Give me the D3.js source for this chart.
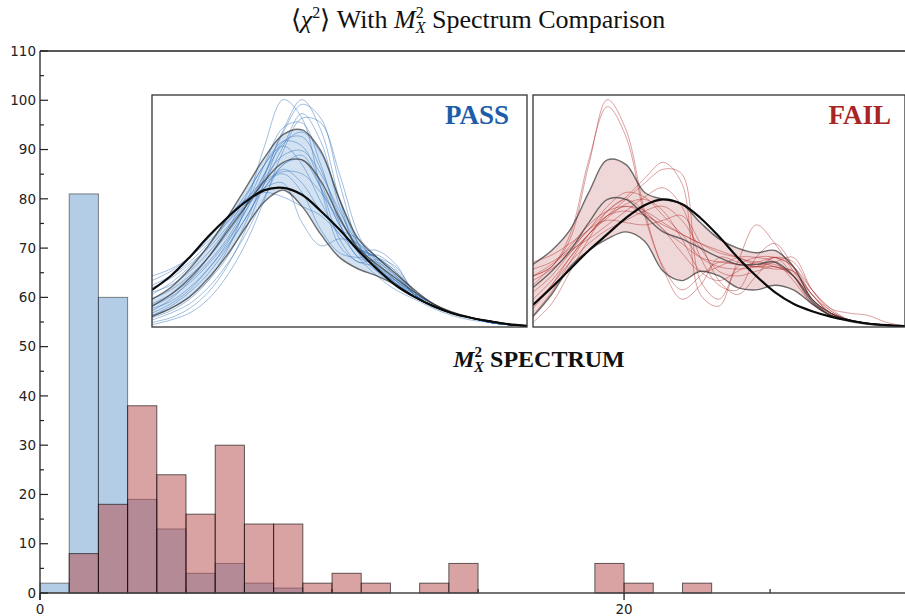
<!DOCTYPE html>
<html>
<head>
<meta charset="utf-8">
<script src="https://cdn.jsdelivr.net/npm/d3@7"></script>
<style>
  body { margin: 0; background: #fff; }
  svg { display: block; }
</style>
</head>
<body>
<div id="chart"></div>
<script>
// histogram bins are unit width, starting at 0
var passCounts = [2, 81, 60, 19, 13, 4, 6, 2, 1];
var failCounts = [0, 8, 18, 38, 24, 16, 30, 14, 14, 2, 4, 2, 0, 2, 6, 0, 0, 0, 0, 6, 2, 0, 2];

var yTicks = d3.range(0, 111, 10);
var xLabels = [0, 20];
var xMinor = [5, 10, 15, 25];

// inset curves, sampled on a common grid 0 .. 1 (step 0.05), normalized height
var insetGrid = d3.range(0, 21).map(function(i) { return i / 20; });

var passMean = [0.16,0.22,0.30,0.39,0.47,0.54,0.59,0.60,0.57,0.50,0.42,0.33,0.25,0.18,0.13,0.09,0.06,0.04,0.025,0.012,0.005];
var passUpper = [0.12,0.17,0.25,0.35,0.47,0.60,0.73,0.83,0.85,0.76,0.55,0.38,0.30,0.23,0.16,0.10,0.065,0.04,0.025,0.012,0.005];
var passMid = [0.09,0.14,0.21,0.30,0.41,0.52,0.63,0.71,0.72,0.63,0.47,0.34,0.27,0.21,0.15,0.10,0.06,0.04,0.025,0.012,0.005];
var passLower = [0.045,0.08,0.13,0.21,0.31,0.43,0.54,0.59,0.52,0.40,0.30,0.25,0.22,0.18,0.13,0.09,0.06,0.04,0.025,0.012,0.005];
var passRuns = [
  [0.05,0.08,0.13,0.20,0.30,0.45,0.65,0.85,0.98,0.85,0.55,0.32,0.24,0.20,0.14,0.09,0.06,0.04,0.02,0.01,0.005],
  [0.04,0.07,0.12,0.20,0.33,0.52,0.78,0.98,0.90,0.60,0.35,0.28,0.26,0.20,0.14,0.10,0.06,0.04,0.02,0.01,0.005],
  [0.10,0.14,0.20,0.28,0.38,0.52,0.70,0.86,0.88,0.70,0.45,0.30,0.28,0.22,0.14,0.09,0.06,0.04,0.02,0.01,0.005],
  [0.20,0.24,0.30,0.37,0.45,0.53,0.60,0.62,0.45,0.35,0.38,0.36,0.28,0.20,0.13,0.09,0.06,0.04,0.02,0.01,0.005],
  [0.14,0.19,0.26,0.35,0.45,0.55,0.63,0.67,0.66,0.58,0.46,0.35,0.26,0.19,0.13,0.09,0.06,0.04,0.02,0.01,0.005],
  [0.02,0.04,0.08,0.15,0.26,0.42,0.62,0.80,0.82,0.68,0.48,0.34,0.30,0.23,0.14,0.09,0.06,0.04,0.02,0.01,0.005],
  [0.06,0.10,0.16,0.25,0.36,0.50,0.64,0.74,0.76,0.66,0.50,0.36,0.29,0.21,0.14,0.09,0.06,0.04,0.02,0.01,0.005],
  [0.22,0.25,0.30,0.38,0.47,0.55,0.58,0.56,0.52,0.48,0.40,0.30,0.22,0.16,0.12,0.08,0.05,0.03,0.02,0.01,0.005],
  [0.08,0.11,0.17,0.25,0.35,0.47,0.62,0.78,0.92,0.80,0.52,0.34,0.30,0.26,0.15,0.10,0.06,0.04,0.02,0.01,0.005],
  [0.03,0.06,0.10,0.17,0.27,0.40,0.56,0.70,0.72,0.60,0.44,0.33,0.33,0.27,0.15,0.10,0.06,0.04,0.02,0.01,0.005],
  [0.12,0.16,0.22,0.30,0.40,0.52,0.66,0.79,0.84,0.75,0.55,0.36,0.26,0.20,0.13,0.09,0.06,0.04,0.02,0.01,0.005],
  [0.05,0.09,0.15,0.23,0.34,0.47,0.60,0.68,0.62,0.50,0.42,0.38,0.30,0.22,0.14,0.09,0.06,0.04,0.02,0.01,0.005],
  [0.18,0.22,0.28,0.36,0.46,0.57,0.70,0.80,0.78,0.62,0.44,0.32,0.25,0.19,0.13,0.09,0.06,0.04,0.02,0.01,0.005],
  [0.09,0.13,0.19,0.27,0.37,0.50,0.66,0.84,0.96,0.90,0.62,0.36,0.24,0.18,0.13,0.09,0.06,0.04,0.02,0.01,0.005],
  [0.15,0.18,0.24,0.32,0.42,0.53,0.62,0.66,0.58,0.42,0.32,0.30,0.31,0.25,0.15,0.10,0.06,0.04,0.02,0.01,0.005],
  [0.07,0.12,0.20,0.30,0.42,0.56,0.70,0.78,0.70,0.54,0.40,0.34,0.30,0.24,0.14,0.09,0.06,0.04,0.02,0.01,0.005],
  [0.01,0.03,0.06,0.12,0.22,0.36,0.55,0.76,0.90,0.88,0.66,0.40,0.26,0.19,0.13,0.09,0.06,0.04,0.02,0.01,0.005],
  [0.17,0.21,0.27,0.34,0.43,0.52,0.60,0.70,0.74,0.60,0.38,0.28,0.29,0.24,0.14,0.09,0.06,0.04,0.02,0.01,0.005]
];

var failMean = [0.095,0.17,0.25,0.33,0.40,0.47,0.525,0.55,0.53,0.47,0.39,0.30,0.22,0.15,0.10,0.068,0.045,0.028,0.015,0.008,0.004];
var failUpper = [0.27,0.33,0.42,0.58,0.72,0.70,0.58,0.55,0.53,0.45,0.38,0.34,0.32,0.33,0.26,0.12,0.06,0.03,0.015,0.008,0.004];
var failMid = [0.17,0.24,0.33,0.45,0.55,0.55,0.48,0.41,0.38,0.34,0.30,0.27,0.27,0.28,0.22,0.11,0.05,0.03,0.015,0.008,0.004];
var failLower = [0.045,0.14,0.26,0.33,0.38,0.41,0.37,0.24,0.20,0.24,0.22,0.17,0.16,0.18,0.16,0.10,0.05,0.025,0.012,0.006,0.003];
var failRuns = [
  [0.22,0.26,0.38,0.70,0.98,0.85,0.50,0.25,0.12,0.18,0.30,0.28,0.26,0.25,0.24,0.14,0.06,0.03,0.015,0.008,0.004],
  [0.28,0.31,0.36,0.42,0.50,0.56,0.64,0.71,0.62,0.14,0.09,0.26,0.30,0.30,0.26,0.16,0.08,0.03,0.015,0.008,0.004],
  [0.20,0.25,0.32,0.40,0.48,0.55,0.62,0.68,0.66,0.20,0.12,0.28,0.44,0.36,0.24,0.14,0.07,0.03,0.015,0.008,0.004],
  [0.05,0.15,0.28,0.40,0.48,0.50,0.48,0.44,0.40,0.36,0.33,0.30,0.27,0.27,0.22,0.12,0.06,0.03,0.015,0.008,0.004],
  [0.12,0.20,0.30,0.40,0.48,0.52,0.50,0.45,0.40,0.36,0.32,0.30,0.28,0.30,0.26,0.14,0.06,0.03,0.015,0.008,0.004],
  [0.18,0.26,0.35,0.44,0.50,0.52,0.49,0.42,0.32,0.24,0.26,0.30,0.30,0.28,0.20,0.10,0.05,0.03,0.015,0.008,0.004],
  [0.08,0.18,0.30,0.40,0.47,0.53,0.55,0.50,0.38,0.24,0.20,0.24,0.28,0.26,0.24,0.14,0.06,0.03,0.015,0.008,0.004],
  [0.25,0.28,0.34,0.42,0.52,0.58,0.56,0.48,0.40,0.30,0.26,0.25,0.26,0.30,0.28,0.16,0.08,0.06,0.05,0.02,0.004],
  [0.15,0.22,0.32,0.42,0.46,0.45,0.44,0.46,0.48,0.36,0.20,0.14,0.22,0.30,0.22,0.10,0.05,0.03,0.015,0.008,0.004],
  [0.22,0.27,0.33,0.38,0.44,0.50,0.56,0.60,0.52,0.30,0.18,0.16,0.30,0.36,0.26,0.12,0.06,0.03,0.015,0.008,0.004],
  [0.02,0.10,0.24,0.38,0.50,0.55,0.50,0.42,0.36,0.30,0.28,0.27,0.26,0.28,0.30,0.16,0.07,0.03,0.015,0.008,0.004],
  [0.22,0.26,0.40,0.72,0.95,0.82,0.48,0.26,0.16,0.22,0.28,0.27,0.26,0.26,0.22,0.12,0.05,0.03,0.015,0.008,0.004],
  [0.10,0.18,0.28,0.36,0.42,0.46,0.50,0.52,0.46,0.34,0.24,0.22,0.24,0.26,0.22,0.12,0.05,0.03,0.015,0.008,0.004]
];

var width = 905, height = 616;
var margin = {top: 51, right: 0, bottom: 23, left: 40};

var svg = d3.select("#chart").append("svg")
    .attr("width", width)
    .attr("height", height);

var x = d3.scaleLinear().domain([0, 29.62]).range([margin.left, width - margin.right]);
var y = d3.scaleLinear().domain([0, 110]).range([height - margin.bottom, margin.top]);

// x minor ticks (drawn first, bars sit over them)
svg.append("g").selectAll("line").data(xMinor).enter().append("line")
    .attr("x1", function(d) { return x(d); }).attr("x2", function(d) { return x(d); })
    .attr("y1", y(0)).attr("y2", y(0) - 4)
    .attr("stroke", "#222").attr("stroke-width", 1.2);

// bars
function drawBars(counts, fill, stroke) {
    svg.append("g").selectAll("rect")
        .data(counts.map(function(c, i) { return {i: i, c: c}; }).filter(function(d) { return d.c > 0; }))
        .enter().append("rect")
        .attr("x", function(d) { return x(d.i); })
        .attr("width", function(d) { return x(d.i + 1) - x(d.i); })
        .attr("y", function(d) { return y(d.c); })
        .attr("height", function(d) { return y(0) - y(d.c); })
        .attr("fill", fill)
        .attr("fill-opacity", 0.5)
        .attr("stroke", stroke)
        .attr("stroke-width", 1);
}
drawBars(passCounts, "rgb(103,155,205)", "rgba(0,0,0,0.45)");
drawBars(failCounts, "rgb(182,72,72)", "rgba(0,0,0,0.6)");

// frame
var axisColor = "#444";
svg.append("line").attr("x1", x(0)).attr("x2", width).attr("y1", y(0)).attr("y2", y(0))
    .attr("stroke", axisColor).attr("stroke-width", 1.3);
svg.append("line").attr("x1", x(0)).attr("x2", width).attr("y1", y(110)).attr("y2", y(110))
    .attr("stroke", "#222").attr("stroke-width", 1.3);
svg.append("line").attr("x1", x(0)).attr("x2", x(0)).attr("y1", y(110)).attr("y2", y(0) + 7)
    .attr("stroke", "#222").attr("stroke-width", 1.3);

// y ticks
var yg = svg.append("g");
yg.selectAll("line.major").data(yTicks).enter().append("line")
    .attr("x1", x(0)).attr("x2", x(0) + 8)
    .attr("y1", function(d) { return y(d); }).attr("y2", function(d) { return y(d); })
    .attr("stroke", "#222").attr("stroke-width", 1.2);
yg.selectAll("line.minor").data(d3.range(5, 110, 10)).enter().append("line")
    .attr("x1", x(0)).attr("x2", x(0) + 4)
    .attr("y1", function(d) { return y(d); }).attr("y2", function(d) { return y(d); })
    .attr("stroke", "#222").attr("stroke-width", 1.2);
yg.selectAll("text").data(yTicks).enter().append("text")
    .attr("x", x(0) - 4)
    .attr("y", function(d) { return y(d); })
    .attr("dy", "0.35em")
    .attr("text-anchor", "end")
    .attr("font-family", "DejaVu Sans, sans-serif")
    .attr("font-size", 13.5)
    .attr("fill", "#222")
    .text(function(d) { return d; });

// x major ticks + labels (the bottom of the labels runs to the edge, as in the source)
var xg = svg.append("g");
xg.selectAll("line").data(xLabels).enter().append("line")
    .attr("x1", function(d) { return x(d); }).attr("x2", function(d) { return x(d); })
    .attr("y1", y(0)).attr("y2", y(0) + 7)
    .attr("stroke", "#222").attr("stroke-width", 1.3);
xg.selectAll("text").data(xLabels).enter().append("text")
    .attr("x", function(d) { return x(d); })
    .attr("y", y(0) + 21)
    .attr("text-anchor", "middle")
    .attr("font-family", "DejaVu Sans, sans-serif")
    .attr("font-size", 13.5)
    .attr("fill", "#222")
    .text(function(d) { return d; });

// title
var title = svg.append("text")
    .attr("x", 478).attr("y", 28)
    .attr("text-anchor", "middle")
    .attr("font-family", "Liberation Serif, serif")
    .attr("font-size", 26)
    .attr("fill", "#111");
title.append("tspan").text("\u27E8");
title.append("tspan").attr("font-style", "italic").text("\u03C7");
title.append("tspan").attr("font-size", 16).attr("dy", -10).text("2");
title.append("tspan").attr("dy", 10).text("\u27E9 With ");
title.append("tspan").attr("font-style", "italic").text("M");
title.append("tspan").attr("font-size", 16).attr("dy", -10).text("2");
title.append("tspan").attr("font-size", 16).attr("font-style", "italic").attr("dx", -8).attr("dy", 15).text("X");
title.append("tspan").attr("dy", -5).text(" Spectrum Comparison");

// spectrum label
var spec = svg.append("text")
    .attr("x", 539).attr("y", 367)
    .attr("text-anchor", "middle")
    .attr("font-family", "Liberation Serif, serif")
    .attr("font-weight", "bold")
    .attr("font-size", 24)
    .attr("fill", "#111");
spec.append("tspan").attr("font-style", "italic").text("M");
spec.append("tspan").attr("font-size", 15).attr("dy", -10).text("2");
spec.append("tspan").attr("font-size", 15).attr("font-style", "italic").attr("dx", -8).attr("dy", 15).text("X");
spec.append("tspan").attr("dy", -5).text(" SPECTRUM");

// insets
function drawInset(id, box, runs, upper, mid, lower, mean, lineColor, bandColor, label, labelColor, labelPad) {
    var g = svg.append("g");
    var ix = d3.scaleLinear().domain([0, 1]).range([box.x0, box.x1]);
    var iy = d3.scaleLinear().domain([0, 1]).range([box.y1, box.y0]);

    svg.append("clipPath").attr("id", id)
        .append("rect").attr("x", box.x0).attr("y", box.y0)
        .attr("width", box.x1 - box.x0).attr("height", box.y1 - box.y0);

    g.append("rect").attr("x", box.x0).attr("y", box.y0)
        .attr("width", box.x1 - box.x0).attr("height", box.y1 - box.y0)
        .attr("fill", "#fff");

    var inner = g.append("g").attr("clip-path", "url(#" + id + ")");

    var line = d3.line()
        .x(function(d, i) { return ix(insetGrid[i]); })
        .y(function(d) { return iy(d); })
        .curve(d3.curveCatmullRom.alpha(0.5));
    var area = d3.area()
        .x(function(d, i) { return ix(insetGrid[i]); })
        .y0(function(d, i) { return iy(lower[i]); })
        .y1(function(d) { return iy(d); })
        .curve(d3.curveCatmullRom.alpha(0.5));

    inner.append("path").attr("d", area(upper))
        .attr("fill", bandColor).attr("fill-opacity", 0.25);

    inner.selectAll("path.run").data(runs).enter().append("path")
        .attr("class", "run")
        .attr("d", line)
        .attr("fill", "none")
        .attr("stroke", lineColor)
        .attr("stroke-opacity", 0.45)
        .attr("stroke-width", 1);

    [upper, mid, lower].forEach(function(c) {
        inner.append("path").attr("d", line(c))
            .attr("fill", "none").attr("stroke", "#333")
            .attr("stroke-opacity", 0.7).attr("stroke-width", 1.4);
    });

    inner.append("path").attr("d", line(mean))
        .attr("fill", "none").attr("stroke", "#0a0a0a").attr("stroke-width", 2.2);

    g.append("rect").attr("x", box.x0).attr("y", box.y0)
        .attr("width", box.x1 - box.x0).attr("height", box.y1 - box.y0)
        .attr("fill", "none").attr("stroke", "#333").attr("stroke-width", 1.3);

    g.append("text")
        .attr("x", box.x1 - labelPad).attr("y", box.y0 + 29)
        .attr("text-anchor", "end")
        .attr("font-family", "Liberation Serif, serif")
        .attr("font-weight", "bold")
        .attr("font-size", 27)
        .attr("fill", labelColor)
        .text(label);
}

drawInset("clip-pass", {x0: 152, x1: 527, y0: 95, y1: 327}, passRuns, passUpper, passMid, passLower, passMean,
    "#2e6fb8", "#4f8ccc", "PASS", "#1d5ca8", 18);
drawInset("clip-fail", {x0: 533, x1: 905, y0: 95, y1: 327}, failRuns, failUpper, failMid, failLower, failMean,
    "#b22a2a", "#c06060", "FAIL", "#a82525", 14);
</script>
</body>
</html>
